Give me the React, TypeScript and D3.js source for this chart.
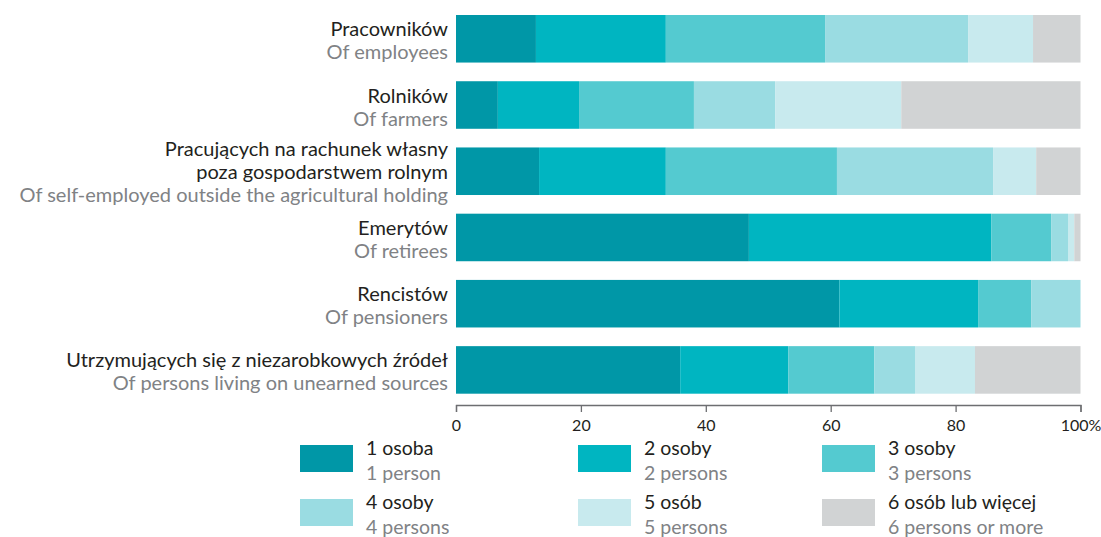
import React, { useEffect, useRef } from "react";
import * as d3 from "d3";

const categoriesPL: string[][] = [
  ["Pracowników"],
  ["Rolników"],
  ["Pracujących na rachunek własny", "poza gospodarstwem rolnym"],
  ["Emerytów"],
  ["Rencistów"],
  ["Utrzymujących się z niezarobkowych źródeł"],
];
const categoriesEN: string[] = [
  "Of employees",
  "Of farmers",
  "Of self-employed outside the agricultural holding",
  "Of retirees",
  "Of pensioners",
  "Of persons living on unearned sources",
];

const s1 = [12.8, 6.7, 13.3, 46.9, 61.4, 35.9];
const s2 = [20.8, 13.0, 20.3, 38.8, 22.2, 17.3];
const s3 = [25.5, 18.4, 27.4, 9.6, 8.5, 13.8];
const s4 = [22.9, 13.0, 25.0, 2.7, 7.9, 6.5];
const s5 = [10.4, 20.2, 6.9, 1.0, 0, 9.6];
const s6 = [7.6, 28.7, 7.1, 1.0, 0, 16.9];

const seriesPL = ["1 osoba", "2 osoby", "3 osoby", "4 osoby", "5 osób", "6 osób lub więcej"];
const seriesEN = ["1 person", "2 persons", "3 persons", "4 persons", "5 persons", "6 persons or more"];
const colors = ["#0097a7", "#00b5c1", "#54cad0", "#9adce2", "#c8eaee", "#d1d3d4"];

const xTicks = [0, 20, 40, 60, 80, 100];

const FONT = "Lato, 'Open Sans', sans-serif";

export default function App() {
  const axisRef = useRef<SVGGElement>(null);
  const width = 1101;
  const height = 537;

  const x = d3.scaleLinear().domain([0, 100]).range([456, 1080.5]);
  const y = d3
    .scaleBand<number>()
    .domain(d3.range(categoriesEN.length))
    .range([15, 393.7])
    .paddingInner(0.282)
    .paddingOuter(0);

  const seriesVals = [s1, s2, s3, s4, s5, s6];
  const rows = categoriesEN.map((_, i) => {
    const obj: Record<string, number> = {};
    seriesVals.forEach((s, k) => (obj["k" + k] = s[i]));
    return obj;
  });
  const stack = d3.stack<Record<string, number>>().keys(seriesVals.map((_, k) => "k" + k));
  const stacked = stack(rows);

  useEffect(() => {
    if (!axisRef.current) return;
    const g = d3.select(axisRef.current);
    g.selectAll("*").remove();
    const axis = d3
      .axisBottom(x)
      .tickValues(xTicks)
      .tickSize(7)
      .tickSizeOuter(7)
      .tickPadding(8)
      .tickFormat((d) => (d === 100 ? "100%" : String(d)));
    g.call(axis as any);
    g.selectAll("path,line").attr("stroke", "#6d6e71").attr("stroke-width", 1.3);
    g.selectAll("text")
      .attr("fill", "#231f20")
      .attr("font-size", 16)
      .attr("font-family", FONT);
  }, []);

  const lineH = 23;

  const legendCols = [300, 578, 822];
  const legendRows = [445, 499];

  return (
    <svg
      width={width}
      height={height}
      style={{ position: "absolute", left: 0, top: 0, background: "#fff" }}
      fontFamily={FONT}
    >
      {stacked.map((layer, k) =>
        layer.map((d, i) => (
          <rect
            key={k + "-" + i}
            x={x(d[0])}
            y={y(i)}
            width={Math.max(0, x(d[1]) - x(d[0]))}
            height={y.bandwidth()}
            fill={colors[k]}
          />
        ))
      )}
      {categoriesEN.map((en, i) => {
        const lines = [...categoriesPL[i], en];
        const n = lines.length;
        const c = (y(i) as number) + y.bandwidth() / 2;
        const off = n > 2 ? 7.5 : 9;
        return (
          <g key={i}>
            {lines.map((t, j) => (
              <text
                key={j}
                x={448}
                y={c + (j - (n - 1) / 2) * lineH + off}
                textAnchor="end"
                fontSize={20}
                fill={j === n - 1 ? "#808285" : "#231f20"}
              >
                {t}
              </text>
            ))}
          </g>
        );
      })}
      <g ref={axisRef} transform="translate(0,405)" />
      {seriesPL.map((s, k) => {
        const cx = legendCols[k % 3];
        const ry = legendRows[Math.floor(k / 3)];
        return (
          <g key={k}>
            <rect x={cx} y={ry} width={53} height={27} fill={colors[k]} />
            <text x={cx + 66} y={ry + 10} fontSize={19.5} fill="#231f20">
              {s}
            </text>
            <text x={cx + 66} y={ry + 35} fontSize={19.5} fill="#808285">
              {seriesEN[k]}
            </text>
          </g>
        );
      })}
    </svg>
  );
}
